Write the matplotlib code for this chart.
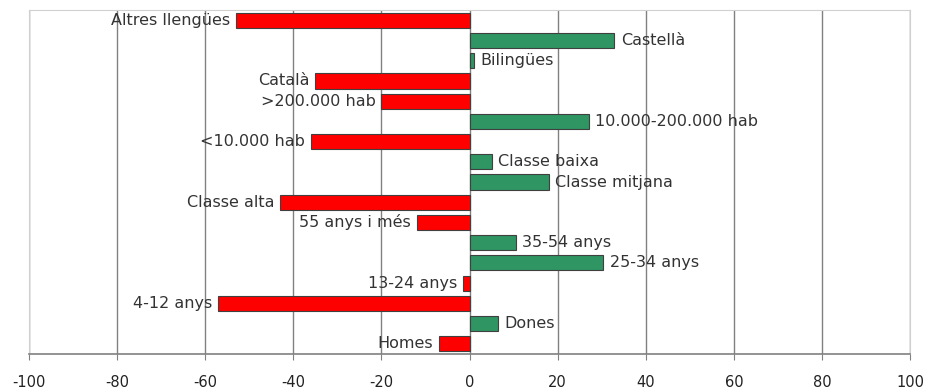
import matplotlib.pyplot as plt

plt.rcParams['axes.unicode_minus'] = False

categories = ['Altres llengües', 'Castellà', 'Bilingües', 'Català', '>200.000 hab',
              '10.000-200.000 hab', '<10.000 hab', 'Classe baixa', 'Classe mitjana',
              'Classe alta', '55 anys i més', '35-54 anys', '25-34 anys', '13-24 anys',
              '4-12 anys', 'Dones', 'Homes']
values = [-53, 32.8, 1, -35, -20, 27, -36, 5, 18, -43, -12, 10.5, 30.3, -1.4, -57, 6.4, -7]

fig = plt.figure(figsize=(9.27, 3.91), dpi=100)
ax = fig.add_axes([0.031, 0.095, 0.951, 0.879])

y = range(len(categories))
colors = ['#ff0000' if v < 0 else '#2e9563' for v in values]
ax.barh(y, values, height=0.75, color=colors, edgecolor='#404040', linewidth=0.8, zorder=3)

for i, (name, v) in enumerate(zip(categories, values)):
    if v < 0:
        ax.text(v - 1.3, i, name, ha='right', va='center', fontsize=11.5, color='#333333', zorder=4)
    else:
        ax.text(v + 1.5, i, name, ha='left', va='center', fontsize=11.5, color='#333333', zorder=4)

ax.set_xlim(-100, 100)
ax.set_ylim(len(categories) - 0.5, -0.5)
ax.set_xticks(range(-100, 101, 20))
ax.set_yticks([])
ax.tick_params(axis='x', direction='out', length=4, color='#808080', labelsize=10.5,
               labelcolor='#222222', pad=11)
ax.grid(axis='x', color='#808080', linewidth=1, zorder=0)

for side in ['top', 'left', 'right']:
    ax.spines[side].set_color('#d0d0d0')
ax.spines['bottom'].set_color('#808080')
ax.spines['bottom'].set_linewidth(1.2)

fig.savefig('out.png', dpi=100)
